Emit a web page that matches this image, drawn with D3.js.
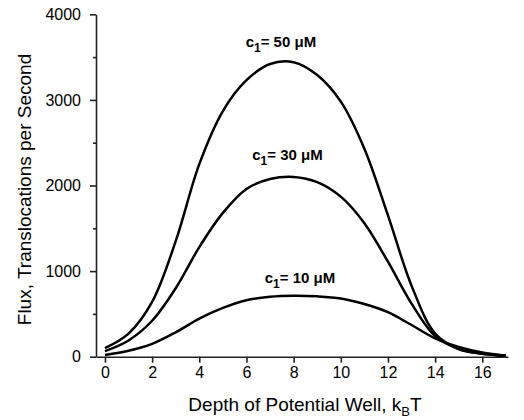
<!DOCTYPE html>
<html>
<head>
<meta charset="utf-8">
<script src="https://cdn.jsdelivr.net/npm/d3@7"></script>
<style>
  body { margin: 0; background: #fff; }
  text { font-family: "Liberation Sans", Arial, sans-serif; }
</style>
</head>
<body>
<div id="chart"></div>
<script>
// values: flux vs. well depth, one series per c1
var depth  = [0, 1, 2, 3, 4, 5, 6, 7, 8, 9, 10, 11, 12, 13, 14, 15, 16, 17];
var flux50 = [100, 270, 640, 1350, 2250, 2870, 3230, 3420, 3440, 3290, 2980, 2430, 1650, 830, 270, 90, 35, 10];
var flux30 = [65, 190, 420, 800, 1280, 1680, 1960, 2075, 2100, 2040, 1870, 1560, 1110, 620, 240, 90, 35, 10];
var flux10 = [20, 70, 150, 285, 445, 570, 660, 700, 712, 705, 680, 615, 520, 370, 215, 115, 50, 12];

var labelConc = ["50", "30", "10"];
var labelX    = [7.46, 7.74, 8.27];
var labelY    = [3620, 2300, 857];

var xTicks = [0, 2, 4, 6, 8, 10, 12, 14, 16];
var yTicks = [0, 1000, 2000, 3000, 4000];
var yMinor = [500, 1500, 2500, 3500];

var width = 524, height = 420;
var margin = {top: 14.3, right: 16, bottom: 63.3, left: 96};

var svg = d3.select("#chart").append("svg")
    .attr("width", width)
    .attr("height", height);

var x = d3.scaleLinear().domain([-0.38, 17.09]).range([margin.left, width - margin.right]);
var y = d3.scaleLinear().domain([0, 4000]).range([height - margin.bottom, margin.top]);

// #####################################################
// Axes
//
var xAxis = svg.append("g")
    .attr("transform", "translate(0," + y(0) + ")")
    .call(d3.axisBottom(x).tickValues(xTicks).tickSize(6).tickSizeOuter(0).tickPadding(4));

var yAxis = svg.append("g")
    .attr("transform", "translate(" + x.range()[0] + ",0)")
    .call(d3.axisLeft(y).tickValues(yTicks).tickFormat(d3.format("d"))
      .tickSize(6).tickSizeOuter(0).tickPadding(9));

svg.append("g")
    .attr("transform", "translate(" + x.range()[0] + ",0)")
    .call(d3.axisLeft(y).tickValues(yMinor).tickSize(3).tickSizeOuter(0).tickFormat(""))
    .select(".domain").remove();

svg.selectAll(".domain, .tick line")
    .attr("stroke", "#222")
    .attr("stroke-width", 1.6);

xAxis.selectAll("text").style("font-size", "16px").attr("fill", "#000");
yAxis.selectAll("text").style("font-size", "16px").attr("fill", "#000");

// axis titles
var xt = svg.append("text")
    .attr("x", 305)
    .attr("y", 411)
    .attr("text-anchor", "middle")
    .style("font-size", "19px");
xt.append("tspan").text("Depth of Potential Well, k");
xt.append("tspan").attr("dy", 5).style("font-size", "13px").text("B");
xt.append("tspan").attr("dy", -5).text("T");

svg.append("text")
    .attr("transform", "translate(31," + ((y(0) + y(4000)) / 2 + 4) + ") rotate(-90)")
    .attr("text-anchor", "middle")
    .style("font-size", "19px")
    .text("Flux,  Translocations per Second");

// #####################################################
// Curves
//
var line = d3.line()
    .x(function(d) { return x(d[0]); })
    .y(function(d) { return y(d[1]); })
    .curve(d3.curveCatmullRom.alpha(0.5));

[flux50, flux30, flux10].forEach(function(series) {
  svg.append("path")
      .datum(depth.map(function(d, i) { return [d, series[i]]; }))
      .attr("fill", "none")
      .attr("stroke", "#000")
      .attr("stroke-width", 2.5)
      .attr("d", line);
});

// curve labels, c1 = ... uM
labelConc.forEach(function(c, i) {
  var t = svg.append("text")
      .attr("x", x(labelX[i]))
      .attr("y", y(labelY[i]))
      .attr("text-anchor", "middle")
      .style("font-size", "15px")
      .style("font-weight", "bold");
  t.append("tspan").text("c");
  t.append("tspan").attr("dy", 5).style("font-size", "12px").text("1");
  t.append("tspan").attr("dy", -5).text("= " + c + " \u03bcM");
});
</script>
</body>
</html>
